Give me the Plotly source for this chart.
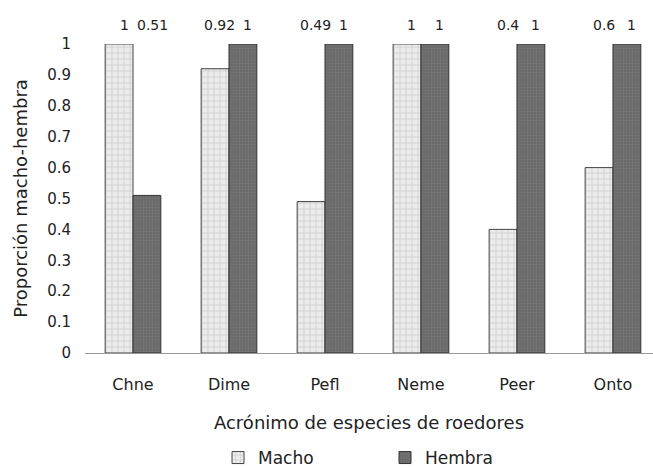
import plotly.graph_objects as go

especies = ["Chne", "Dime", "Pefl", "Neme", "Peer", "Onto"]
macho = [1, 0.92, 0.49, 1, 0.4, 0.6]
hembra = [0.51, 1, 1, 1, 1, 1]
y_ticks = [0, 0.1, 0.2, 0.3, 0.4, 0.5, 0.6, 0.7, 0.8, 0.9, 1]

FONT = "DejaVu Sans, Arial, sans-serif"

fig = go.Figure()
fig.add_trace(go.Bar(
    x=especies, y=macho, name="Macho",
    marker=dict(color="#ececec", line=dict(color="#444444", width=1),
                pattern=dict(shape="+", fgcolor="#b8b8b8", size=6, solidity=0.3)),
))
fig.add_trace(go.Bar(
    x=especies, y=hembra, name="Hembra",
    marker=dict(color="#6a6a6a", line=dict(color="#333333", width=1),
                pattern=dict(shape="+", fgcolor="#848484", size=3, solidity=0.3)),
))

# value labels in a row above the plot area
for i, (m, h) in enumerate(zip(macho, hembra)):
    for val, shift in ((m, -9), (h, 19)):
        fig.add_annotation(x=especies[i], y=1.0, yref="paper", yanchor="middle",
                           yshift=19, xshift=shift, text=f"{val:g}", showarrow=False,
                           font=dict(size=14, color="#222222", family=FONT))

fig.update_layout(
    width=653, height=468,
    margin=dict(l=85, r=0, t=44, b=115),
    paper_bgcolor="white", plot_bgcolor="white",
    barmode="group", bargap=0.42, bargroupgap=0,
    font=dict(family=FONT, color="#222222", size=16),
    showlegend=True,
    legend=dict(orientation="h", x=218 / 653, xanchor="left", xref="container",
                y=10 / 468, yanchor="middle", yref="container",
                entrywidth=122, font=dict(size=17), itemclick=False),
)
fig.update_xaxes(
    range=[-0.5, 5.417], showline=True, linecolor="#999999", linewidth=1,
    ticks="", ticklabelstandoff=17, tickfont=dict(size=16), automargin=False,
    title=dict(text="Acrónimo de especies de roedores", font=dict(size=18), standoff=23),
    showgrid=False,
)
fig.update_yaxes(
    range=[0, 1], tickvals=y_ticks, ticktext=[f"{v:g}" for v in y_ticks],
    showline=False, showgrid=False, zeroline=False, ticklabelstandoff=13,
    tickfont=dict(size=15), automargin=False,
    title=dict(text="Proporción macho-hembra", font=dict(size=18), standoff=14),
)

fig.write_html("out.html")
